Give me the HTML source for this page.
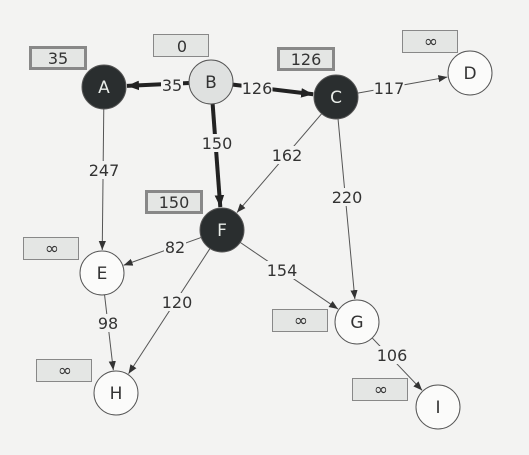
<!DOCTYPE html>
<html><head><meta charset="utf-8"><style>
html,body{margin:0;padding:0;background:#f3f3f2;}
svg{display:block;font-family:"DejaVu Sans","Liberation Sans",sans-serif;}
</style></head><body>
<svg id="g" width="529" height="455" viewBox="0 0 529 455" xmlns="http://www.w3.org/2000/svg">
<defs>
<marker id="ah" viewBox="0 0 10 10" refX="10" refY="5" markerWidth="9" markerHeight="9" markerUnits="userSpaceOnUse" orient="auto"><path d="M0,1 L10,5 L0,9 z" fill="#333"/></marker>
<marker id="ahb" viewBox="0 0 10 10" refX="10" refY="5" markerWidth="12" markerHeight="12" markerUnits="userSpaceOnUse" orient="auto"><path d="M0,1 L10,5 L0,9 z" fill="#222"/></marker>
</defs>
<rect x="0" y="0" width="529" height="455" fill="#f3f3f2"/>
</svg>
<script>
const nodeNames=["A","B","C","D","E","F","G","H","I"];
const nodeX=[104,211,336,470,102,222,357,116,438];
const nodeY=[87,82,97,73,273,230,322,393,407];
const nodeState=["done","start","done","open","open","done","open","open","open"];
const distLabels=["35","0","126","∞","∞","150","∞","∞","∞"];
const boxX=[29,153,277,402,23,145,272,36,352];
const boxY=[46,34,47,30,237,190,309,359,378];
const edgeFrom=["B","B","B","C","C","C","A","F","F","F","E","G"];
const edgeTo=["A","C","F","D","F","G","E","E","G","H","H","I"];
const edgeWeights=[35,126,150,117,162,220,247,82,154,120,98,106];
const edgeBold=[true,true,true,false,false,false,false,false,false,false,false,false];
const labelPos=[[172,85],[257,88],[217,143],[389,88],[287,155],[347,197],[104,170],[175,247],[282,270],[177,302],[108,323],[392,355]];
const R=22;
const svg=document.getElementById('g');
const NS="http://www.w3.org/2000/svg";
function mk(t,a){const e=document.createElementNS(NS,t);for(const k in a)e.setAttribute(k,a[k]);svg.appendChild(e);return e;}
const idx=n=>nodeNames.indexOf(n);
edgeFrom.forEach((f,i)=>{
  const a=idx(f),b=idx(edgeTo[i]);
  const dx=nodeX[b]-nodeX[a],dy=nodeY[b]-nodeY[a],L=Math.hypot(dx,dy);
  const ux=dx/L,uy=dy/L;
  const ln=mk('line',{x1:nodeX[a]+ux*R,y1:nodeY[a]+uy*R,x2:nodeX[b]-ux*(R+1),y2:nodeY[b]-uy*(R+1),
    stroke:edgeBold[i]?'#222':'#555','stroke-width':edgeBold[i]?4:1,'marker-end':edgeBold[i]?'url(#ahb)':'url(#ah)'});
  
  
  const p=labelPos[i];
  const w=String(edgeWeights[i]).length*9+4;
  const bg=mk('rect',{x:p[0]-w/2,y:p[1]-9,width:w,height:18,fill:'#f3f3f2'});
  
  
  const t=mk('text',{x:p[0],y:p[1]+6,'text-anchor':'middle','font-size':16,fill:'#333'});
  t.textContent=edgeWeights[i];
  
  
});
nodeNames.forEach((n,i)=>{
  const st=nodeState[i];
  const fill=st==='done'?'#2a2e2f':(st==='start'?'#dfe1e0':'#fbfbfa');
  const c=mk('circle',{cx:nodeX[i],cy:nodeY[i],r:R,fill:fill,stroke:'#555','stroke-width':1});
  
  
  const t=mk('text',{x:nodeX[i],y:nodeY[i]+6,'text-anchor':'middle','font-size':17,fill:st==='done'?'#e8ece8':'#333'});
  t.textContent=n;
  
  
  const done=st==='done';
  const bx=mk('rect',{x:boxX[i]+(done?1.5:0.5),y:boxY[i]+(done?1.5:0.5),width:done?55:55,height:done?21:22,fill:'#e4e6e4',stroke:done?'#888':'#888','stroke-width':done?3:1});
  
  
  const dt=mk('text',{x:boxX[i]+29,y:boxY[i]+(distLabels[i]==='∞'?17:18),'text-anchor':'middle','font-size':distLabels[i]==='∞'?17:16,fill:'#333'});
  dt.textContent=distLabels[i];
  
  
});
</script>
</body></html>
